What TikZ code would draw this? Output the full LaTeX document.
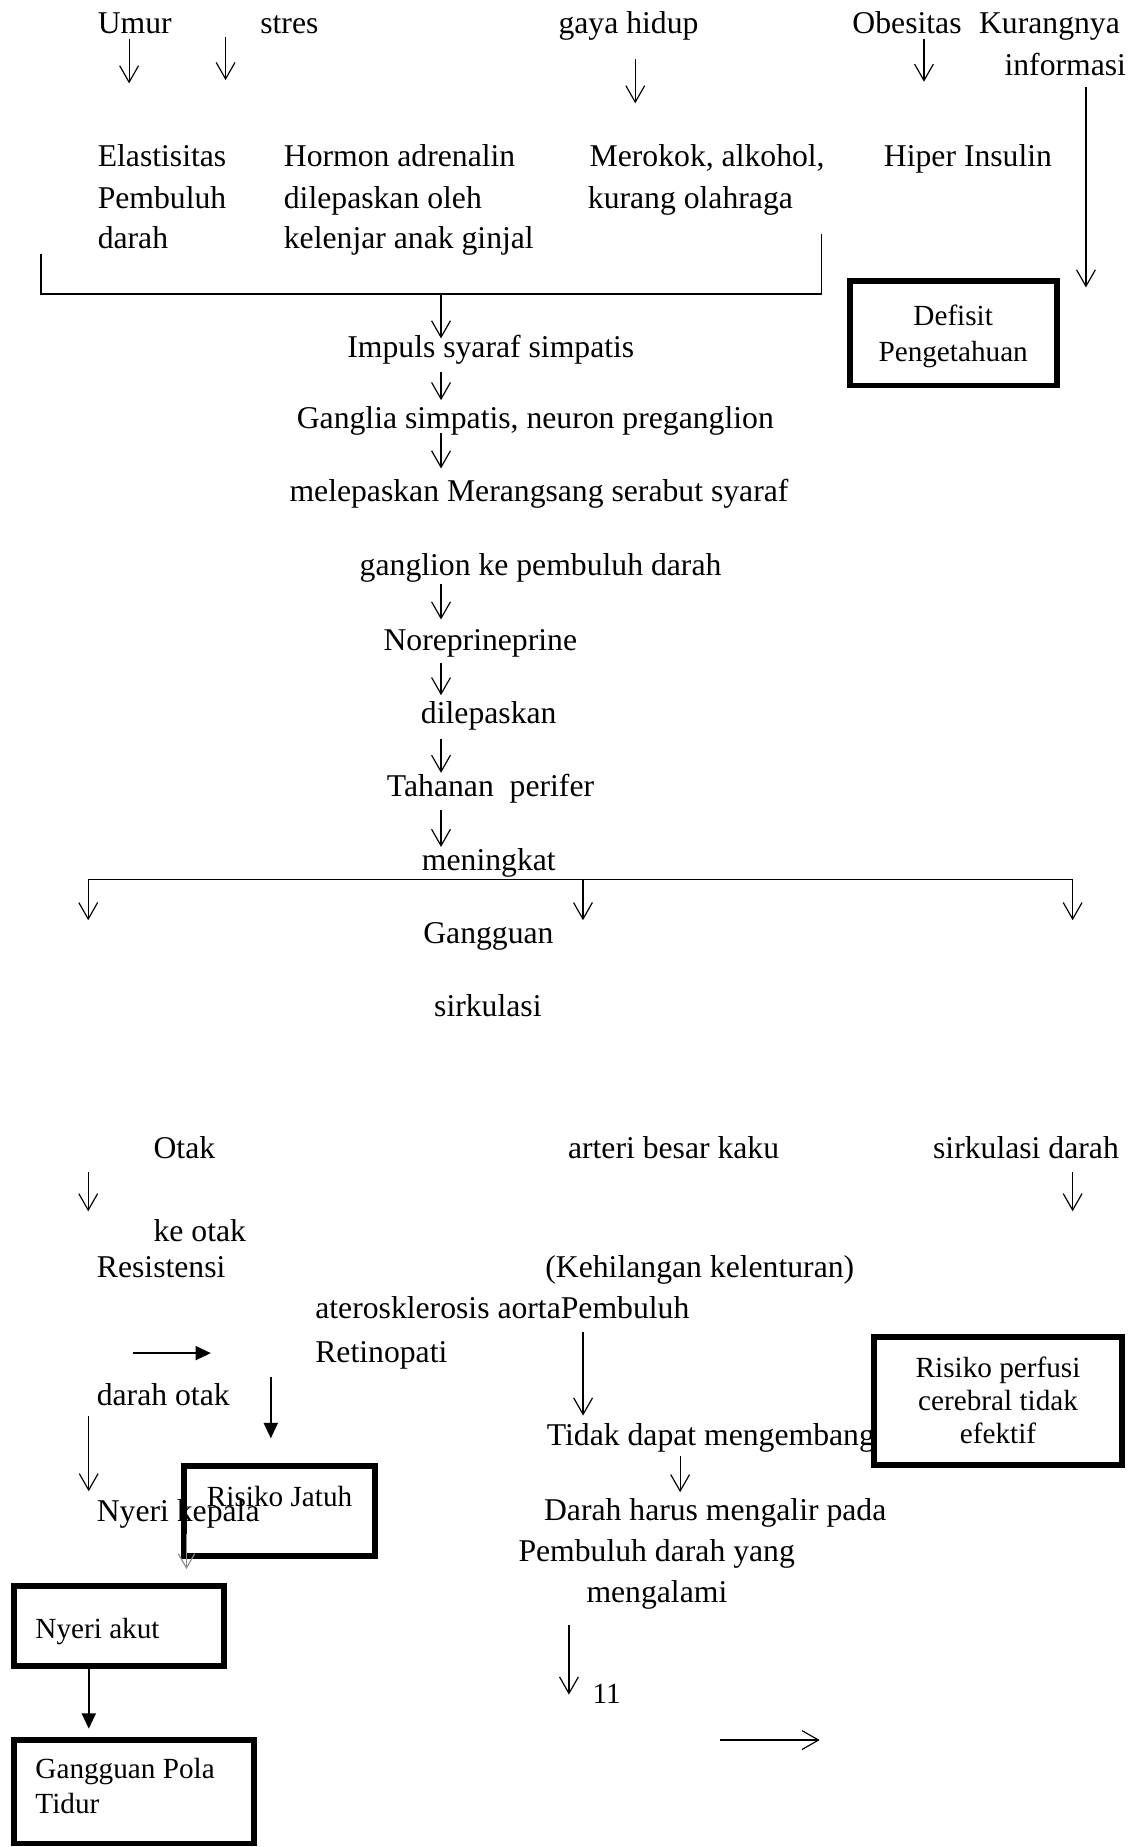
\documentclass[tikz,border=0pt]{standalone}
\usepackage{fontspec}
\setmainfont{Liberation Serif}
\usetikzlibrary{arrows.meta}
\begin{document}
\begin{tikzpicture}[x=1pt,y=-1pt,
  txt/.style={anchor=base west,inner sep=0pt,font=\fontsize{26.9}{35}\selectfont},
  stxt/.style={anchor=base west,inner sep=0pt,font=\fontsize{24.8}{30}\selectfont},
  ctxt/.style={anchor=base,inner sep=0pt,font=\fontsize{24.8}{30}\selectfont},
  oarr/.style={line width=1pt,-{Straight Barb[length=14pt,width=16pt]}},
  garr/.style={line width=1pt,draw=black!45,-{Straight Barb[length=12pt,width=14pt]}},
  farr/.style={line width=1.3pt,-{Triangle[length=13pt,width=12pt]}},
  boxd/.style={draw,line width=5pt,inner sep=0pt},
  brk/.style={line width=1.5pt}]
\useasboundingbox (0,0) rectangle (963,1568);

% ---------- top row ----------
\node[txt] (umur) at (82.8,28.3) {Umur};
\node[txt] (stres) at (220.8,28.3) {stres};
\node[txt] (gaya) at (474,28.3) {gaya hidup};
\node[txt] (obes) at (723.5,28.3) {Obesitas};
\node[txt] (kur1) at (831,28.3) {Kurangnya};
\node[txt] (kur2) at (852.6,63.7) {informasi};

\coordinate (u1) at (109.6,33.4); \coordinate (u2) at (109.6,70.8);
\coordinate (s1) at (191.5,31.1); \coordinate (s2) at (191.5,68);
\coordinate (g1) at (539.3,50.4); \coordinate (g2) at (539.3,87.7);
\coordinate (o1) at (784.4,33.4); \coordinate (o2) at (784.4,69.4);
\coordinate (k1) at (921.9,74.2); \coordinate (k2) at (921.9,244);
\draw[oarr] (u1) -- (u2);
\draw[oarr] (s1) -- (s2);
\draw[oarr] (g1) -- (g2);
\draw[oarr] (o1) -- (o2);
\draw[oarr] (k1) -- (k2);

% ---------- second row ----------
\node[txt] (ela1) at (82.8,141.5) {Elastisitas};
\node[txt] (ela2) at (82.8,176.9) {Pembuluh};
\node[txt] (ela3) at (82.8,210.9) {darah};
\node[txt] (hor1) at (240.8,141.5) {Hormon adrenalin};
\node[txt] (hor2) at (240.8,176.9) {dilepaskan oleh};
\node[txt] (hor3) at (240.8,210.9) {kelenjar anak ginjal};
\node[txt] (mer1) at (500.4,141.5) {Merokok, alkohol,};
\node[txt] (mer2) at (498.9,176.9) {kurang olahraga};
\node[txt] (hip) at (750.2,141.5) {Hiper Insulin};

% bracket
\coordinate (bl) at (34.6,215.7);
\coordinate (blc) at (34.6,249.3);
\coordinate (brc) at (697.3,249.3);
\coordinate (br) at (697.3,198.9);
\draw[brk] (bl) -- (blc) -- (brc) -- (br);

% Defisit box
\node[boxd,minimum width=176pt,minimum height=88.4pt] (def) at (809.6,283.1) {};
\node[ctxt] (def1) at (809.2,276) {Defisit};
\node[ctxt] (def2) at (809.2,307) {Pengetahuan};

% ---------- central chain ----------
\node[txt] (imp) at (294.7,303.4) {Impuls syaraf simpatis};
\node[txt] (gan) at (251.8,363.7) {Ganglia simpatis, neuron preganglion};
\node[txt] (mel) at (245.6,426) {melepaskan Merangsang serabut syaraf};
\node[txt] (gpd) at (305.2,488.3) {ganglion ke pembuluh darah};
\node[txt] (nor) at (325.4,552) {Noreprineprine};
\node[txt] (dil) at (357.2,614.2) {dilepaskan};
\node[txt] (tah) at (328.3,676.5) {Tahanan\ \ perifer};
\node[txt] (men) at (358,738.8) {meningkat};

\coordinate (c1a) at (374.4,249.3); \coordinate (c1b) at (374.4,287.3);
\coordinate (c2a) at (374.4,315.6); \coordinate (c2b) at (374.4,339.7);
\coordinate (c3a) at (374.4,368);   \coordinate (c3b) at (374.4,397.7);
\coordinate (c4a) at (374.4,495.9); \coordinate (c4b) at (374.4,525.9);
\coordinate (c5a) at (374.4,562.7); \coordinate (c5b) at (374.4,590.2);
\coordinate (c6a) at (374.4,627);   \coordinate (c6b) at (374.4,656.1);
\coordinate (c7a) at (374.4,687.8); \coordinate (c7b) at (374.4,719);
\draw[oarr] (c1a) -- (c1b);
\draw[oarr] (c2a) -- (c2b);
\draw[oarr] (c3a) -- (c3b);
\draw[oarr] (c4a) -- (c4b);
\draw[oarr] (c5a) -- (c5b);
\draw[oarr] (c6a) -- (c6b);
\draw[oarr] (c7a) -- (c7b);

% branch line
\coordinate (hl) at (74.9,746.7);
\coordinate (hm) at (494.9,746.7);
\coordinate (hr) at (910.6,746.7);
\draw[brk] (hl) -- (hr);
\coordinate (hlt) at (74.9,781.2);
\coordinate (hmt) at (494.9,781.2);
\coordinate (hrt) at (910.6,781.2);
\draw[oarr] (hl) -- (hlt);
\draw[oarr] (hm) -- (hmt);
\draw[oarr] (hr) -- (hrt);

\node[txt] (gg1) at (359.2,801) {Gangguan};
\node[txt] (gg2) at (368.4,863.3) {sirkulasi};

% ---------- lower part ----------
\node[txt] (otak) at (130.2,983.6) {Otak};
\node[txt] (art) at (482,983.6) {arteri besar kaku};
\node[txt] (sird) at (792,983.6) {sirkulasi darah};

\coordinate (ol1) at (74.9,995); \coordinate (ol2) at (74.9,1028.3);
\coordinate (or1) at (910.6,995); \coordinate (or2) at (910.6,1028.3);
\draw[oarr] (ol1) -- (ol2);
\draw[oarr] (or1) -- (or2);

\node[txt] (keo) at (130.2,1053.8) {ke otak};
\node[txt] (res) at (82.1,1084.1) {Resistensi};
\node[txt] (keh) at (462.8,1084.7) {(Kehilangan kelenturan)};
\node[txt] (ate) at (267.5,1119.5) {aterosklerosis aortaPembuluh};
\node[txt] (ret) at (267.5,1156.3) {Retinopati};
\node[txt] (dot) at (82,1193.1) {darah otak};

\coordinate (ra1) at (113.2,1148.7); \coordinate (ra2) at (179,1148.7);
\draw[farr] (ra1) -- (ra2);
\coordinate (rj1) at (229.9,1169); \coordinate (rj2) at (229.9,1221);
\draw[farr] (rj1) -- (rj2);
\coordinate (nk1) at (75.3,1202.5); \coordinate (nk2) at (75.3,1266);
\draw[oarr] (nk1) -- (nk2);

\node[txt] (nyk) at (82,1292) {Nyeri kepala};

\node[boxd,minimum width=162.7pt,minimum height=76.4pt] (rjb) at (237.25,1282.4) {};
\node[stxt] (rjt) at (175.5,1278.7) {Risiko Jatuh};

\coordinate (ga1) at (158.3,1302.4); \coordinate (ga2) at (158.3,1332);
\draw[garr] (ga1) -- (ga2);

\node[boxd,minimum width=178.3pt,minimum height=67.7pt] (nab) at (100.75,1380.15) {};
\node[stxt] (nat) at (29.9,1390.6) {Nyeri akut};

\coordinate (na1) at (75.4,1416.5); \coordinate (na2) at (75.4,1467.5);
\draw[farr] (na1) -- (na2);

\node[boxd,minimum width=204.3pt,minimum height=87.5pt] (gpb) at (113.75,1521.25) {};
\node[stxt] (gp1) at (29.9,1509.8) {Gangguan Pola};
\node[stxt] (gp2) at (29.9,1539.3) {Tidur};

% right-centre column
\coordinate (pa1) at (495,1131); \coordinate (pa2) at (495,1201.7);
\draw[oarr] (pa1) -- (pa2);
\node[txt] (tdm) at (464.1,1226.9) {Tidak dapat mengembang};
\coordinate (ta1) at (577.4,1235.7); \coordinate (ta2) at (577.4,1266.8);
\draw[oarr] (ta1) -- (ta2);
\node[txt] (dh1) at (461.7,1291.1) {Darah harus mengalir pada};
\node[txt] (dh2) at (440,1325.5) {Pembuluh darah yang};
\node[txt] (dh3) at (497.7,1360.1) {mengalami};
\coordinate (ma1) at (483,1379.4); \coordinate (ma2) at (483,1438.6);
\draw[oarr] (ma1) -- (ma2);
\node[stxt] (eleven) at (502.9,1446.1) {11};
\coordinate (rr1) at (611,1477.2); \coordinate (rr2) at (695.9,1477.2);
\draw[oarr] (rr1) -- (rr2);

% Risiko perfusi box
\node[boxd,fill=white,minimum width=210.4pt,minimum height=108.4pt] (rpb) at (847.5,1189.4) {};
\node[ctxt] (rp1) at (847.3,1169) {Risiko perfusi};
\node[ctxt] (rp2) at (847.3,1197.3) {cerebral tidak};
\node[ctxt] (rp3) at (847.3,1225.4) {efektif};
\end{tikzpicture}
\end{document}
